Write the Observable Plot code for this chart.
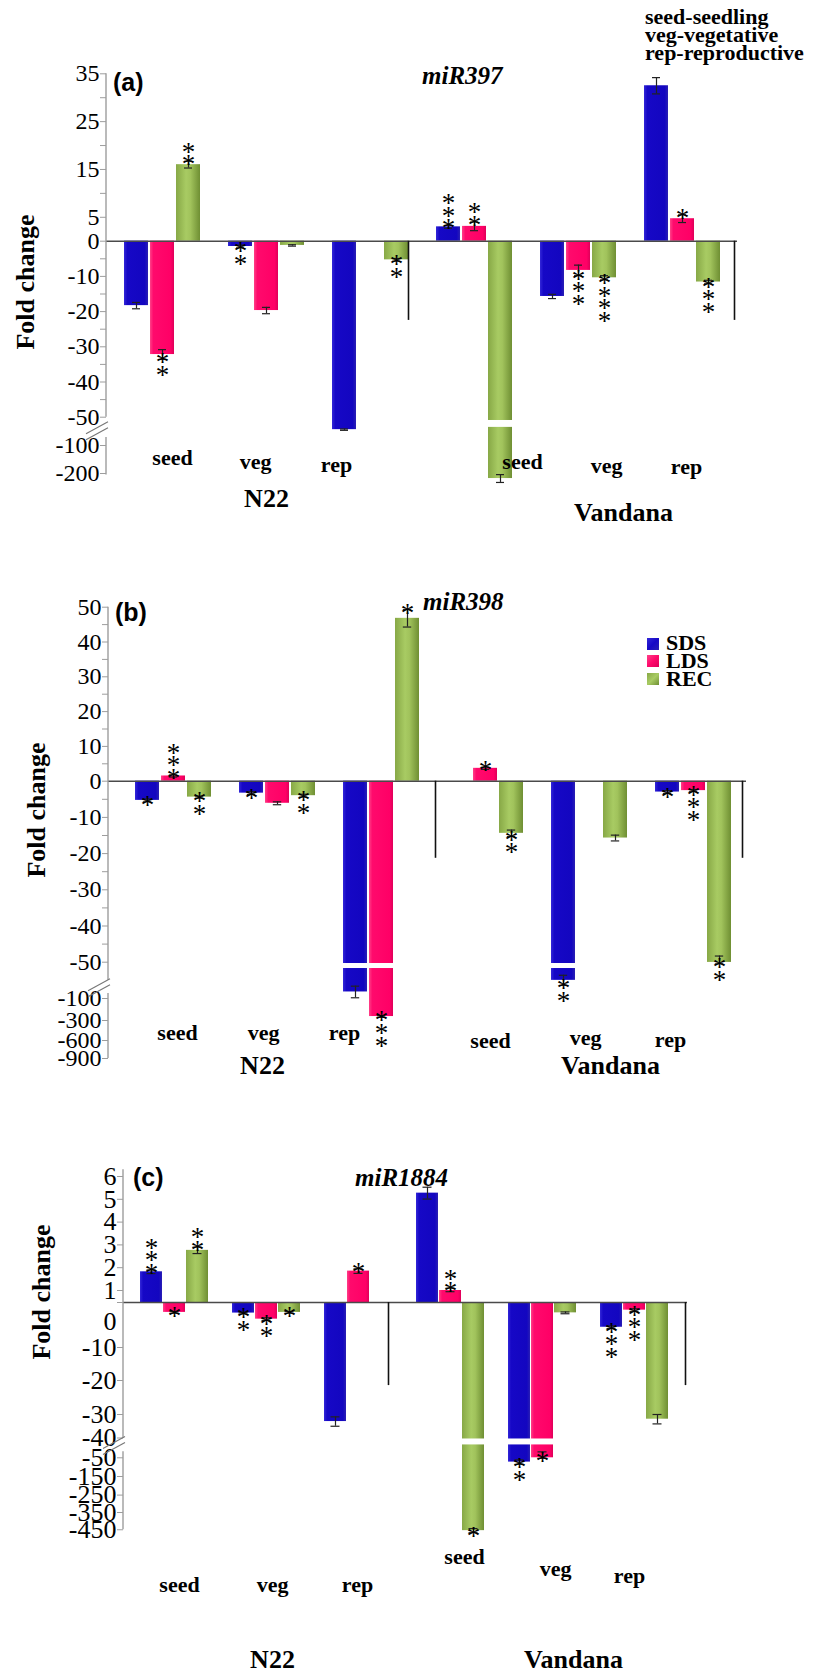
<!DOCTYPE html>
<html>
<head>
<meta charset="utf-8">
<script src="https://cdn.jsdelivr.net/npm/d3@7"></script>
<script src="https://cdn.jsdelivr.net/npm/@observablehq/plot@0.6"></script>
<style>
  html, body { margin: 0; padding: 0; background: #fff; }
  #root { position: relative; width: 820px; height: 1673px; overflow: hidden; background: #fff;
          font-family: "Liberation Serif", "Times New Roman", serif; color: #000; }
  #root svg { position: absolute; left: 0; overflow: visible; }
  .lbl { position: absolute; white-space: pre; line-height: 1; }
</style>
</head>
<body>
<div id="root"></div>
<script>
// ---------------- categories ----------------
const cultivars = ["N22", "Vandana"];
const stages = ["seed", "veg", "rep"];
const series = ["SDS", "LDS", "REC"];
const stageNotes = ["seed-seedling", "veg-vegetative", "rep-reproductive"];

// values ordered: N22 seed, N22 veg, N22 rep, Vandana seed, Vandana veg, Vandana rep
// ---------------- (a) miR397 ----------------
const a_SDS = [-18.3, -1.5, -72, 3.0, -15.7, 32.5];
const a_LDS = [-32.2, -19.7, null, 3.1, -8.3, 4.7];
const a_REC = [16.0, -1.2, -5.3, -218, -10.4, -11.6];
const a_SDS_err = [0.9, 0.4, 1.2, 0.3, 0.6, 1.7];
const a_LDS_err = [1.4, 0.9, 0, 0.9, 1.5, 0.8];
const a_REC_err = [0.7, 0.2, 0.4, 14, 0.6, 0.5];
const a_SDS_sig = [0, 2, 0, 3, 0, 0];
const a_LDS_sig = [2, 0, 0, 2, 3, 1];
const a_REC_sig = [2, 0, 2, 0, 4, 3];
const a_ticks = [35, 30, 25, 20, 15, 10, 5, 0, -5, -10, -15, -20, -25, -30, -35, -40, -45, -50, -100, -200];
const a_tickLabels = [35, 25, 15, 5, 0, -10, -20, -30, -40, -50, -100, -200];

// ---------------- (b) miR398 ----------------
const b_SDS = [-5.3, -3.3, -91, null, -75, -3.0];
const b_LDS = [1.5, -6.1, -264, 3.7, null, -2.6];
const b_REC = [-4.4, -4.0, 46.8, -14.4, -15.7, -50.3];
const b_SDS_err = [0.4, 0.4, 8, 0, 7, 0.4];
const b_LDS_err = [0.3, 0.4, 8, 0.3, 0, 0.3];
const b_REC_err = [0.3, 0.4, 2.5, 0.9, 0.8, 2];
const b_SDS_sig = [1, 1, 0, 0, 2, 1];
const b_LDS_sig = [3, 0, 3, 1, 0, 3];
const b_REC_sig = [2, 2, 1, 2, 0, 2];
const b_ticks = [50, 45, 40, 35, 30, 25, 20, 15, 10, 5, 0, -5, -10, -15, -20, -25, -30, -35, -40, -45, -50, -100, -300, -600, -900];
const b_tickLabels = [50, 40, 30, 20, 10, 0, -10, -20, -30, -40, -50, -100, -300, -600, -900];

// ---------------- (c) miR1884 ----------------
const c_SDS = [1.82, -2.35, -33, 5.27, -73, -5.5];
const c_LDS = [-2.2, -3.7, 1.85, 1.0, -50, -1.7];
const c_REC = [2.76, -2.2, null, -455, -2.3, -32];
const c_SDS_err = [0.08, 0.2, 2, 0.26, 12, 0.3];
const c_LDS_err = [0.2, 0.3, 0.1, 0.1, 3, 0.3];
const c_REC_err = [0.14, 0.2, 0, 12, 0.2, 2];
const c_SDS_sig = [3, 2, 0, 0, 2, 3];
const c_LDS_sig = [1, 2, 1, 2, 1, 3];
const c_REC_sig = [2, 1, 0, 1, 0, 0];
const c_ticks = [6, 5, 4, 3, 2, 1, 0, -10, -20, -30, -40, -50, -150, -250, -350, -450];
const c_tickLabels = [6, 5, 4, 3, 2, 1, 0, -10, -20, -30, -40, -50, -150, -250, -350, -450];

// ---------------- styles ----------------
const SERIF = '"Liberation Serif","Times New Roman",serif';
const SANS = '"Liberation Sans",Arial,sans-serif';
const gradients = {
  SDS: [[0, "#3327d8"], [0.14, "#1608c6"], [0.86, "#1306c0"], [1, "#2a1fb4"]],
  LDS: [[0, "#ff4088"], [0.14, "#ff0a6c"], [0.86, "#ff0066"], [1, "#de0059"]],
  REC: [[0, "#87a846"], [0.42, "#a8cb63"], [0.6, "#a1c35c"], [1, "#6f8f33"]]
};

// ---------------- panel definitions (layout kept apart from data) ----------------
const panels = [
  {
    id: "pa", tag: "(a)", gene: "miR397",
    values: {SDS: a_SDS, LDS: a_LDS, REC: a_REC},
    err: {SDS: a_SDS_err, LDS: a_LDS_err, REC: a_REC_err},
    sig: {SDS: a_SDS_sig, LDS: a_LDS_sig, REC: a_REC_sig},
    ticks: a_ticks, tickLabels: a_tickLabels,
    L: {top: 0, height: 530,
        yDomain: [35, 0, -50, -100, -250], yRange: [73.3, 240.7, 416.7, 445, 487],
        xRange: [117.5, 753.1], marginLeft: 106, marginRight: 83, tickFont: 24,
        sepBottom: -22.5, sepDx: [-14, 0], gap: [-55.8, -68], gapBelow: -100,
        stageY: -160, stageDx: [10, -11, -34, 48, 28, 4], stageDy: [-4, 0, 3, 0, 4, 5],
        axisSegs: [[35, -50], [-86, -205]], breakAt: -75,
        cultivarDy: [19.5, 33.5], cultivarDx: [0, 19], labelDy: {},
        tagPos: [113, 70], genePos: [422, 63], foldPos: [26, 282]}
  },
  {
    id: "pb", tag: "(b)", gene: "miR398",
    values: {SDS: b_SDS, LDS: b_LDS, REC: b_REC},
    err: {SDS: b_SDS_err, LDS: b_LDS_err, REC: b_REC_err},
    sig: {SDS: b_SDS_sig, LDS: b_LDS_sig, REC: b_REC_sig},
    ticks: b_ticks, tickLabels: b_tickLabels,
    L: {top: 530, height: 560,
        yDomain: [50, 0, -50, -100, -300, -600, -900], yRange: [606.7, 780.7, 961.7, 998, 1020, 1040, 1058],
        xRange: [132.7, 759.9], marginLeft: 108, marginRight: 74, tickFont: 24,
        sepBottom: -21.3, sepDx: [2, -3], gap: [-51.8, -58.7], gapBelow: -50.5,
        stageY: -525, stageDx: [4, -14, -37, 5, -4, -23], stageDy: [-3, -3, -3, 5, 2, 4],
        axisSegs: [[50, -75], [-93, -900]], breakAt: -86,
        cultivarDy: [15.5, 15.5], cultivarDx: [-15, -5], labelDy: {},
        tagPos: [115, 600], genePos: [423, 589], foldPos: [37, 810]}
  },
  {
    id: "pc", tag: "(c)", gene: "miR1884",
    values: {SDS: c_SDS, LDS: c_LDS, REC: c_REC},
    err: {SDS: c_SDS_err, LDS: c_LDS_err, REC: c_REC_err},
    sig: {SDS: c_SDS_sig, LDS: c_LDS_sig, REC: c_REC_sig},
    ticks: c_ticks, tickLabels: c_tickLabels,
    L: {top: 1090, height: 583,
        yDomain: [6, 1, 0, -10, -20, -30, -40, -50, -150, -250, -350, -460],
        yRange: [1176, 1290, 1302, 1347, 1380, 1414, 1437.5, 1457.3, 1476, 1494.6, 1512, 1531],
        xRange: [135.5, 695.7], marginLeft: 123, marginRight: 133, tickFont: 26,
        sepBottom: -21.5, sepDx: [-16, 5], gap: [-40.5, -43.5], gapBelow: -45,
        stageY: -697, stageDx: [5, 6, -1, 14, 13, -5], stageDy: [13, 13, 13, -15, -3, 4],
        axisSegs: [[6.3, -40], [-47, -450]], breakAt: -44,
        cultivarDy: [136, 136], cultivarDx: [6, 8], labelDy: {0: 19},
        tagPos: [133, 1165], genePos: [355, 1165], foldPos: [42, 1292]}
  }
];

const root = document.getElementById("root");
function addLabel(text, style) {
  const d = document.createElement("div");
  d.className = "lbl";
  d.textContent = text;
  Object.assign(d.style, style);
  root.appendChild(d);
  return d;
}

const groupIds = [];
for (const c of cultivars) for (const s of stages) groupIds.push(`${c}-${s}`);

function drawPanel(p) {
  const L = p.L;
  const keys = [];
  for (const g of groupIds) { for (const s of series) keys.push(`${g}|${s}`); keys.push(`${g}|gap`); }

  const rows = [];
  groupIds.forEach((g, gi) => {
    for (const s of series) {
      const v = p.values[s][gi];
      if (v == null) continue;
      rows.push({key: `${g}|${s}`, series: s, value: v, err: p.err[s][gi], sig: p.sig[s][gi]});
    }
  });
  const errRows = rows.filter(d => d.err > 0);
  const sepKeys = [`N22-rep|gap`, `Vandana-rep|gap`];
  const cultKeys = [`N22-veg|LDS`, `Vandana-veg|REC`];

  const yRange = L.yRange.map(v => v - L.top);
  const bw = (L.xRange[1] - L.xRange[0]) / (keys.length - 0.06) * 0.94;
  const capInset = Math.max(0, (bw - 9) / 2);
  const stars = n => Array(n).fill("*").join("\n");
  const starOpts = {x: "key", text: d => stars(d.sig), fontSize: 27, fontFamily: SERIF, lineHeight: 0.47, fill: "#000"};

  const labelSet = new Set(p.tickLabels);
  const shifted = Object.keys(L.labelDy).map(Number);

  const marks = [
    ...series.map(s => Plot.barY(rows.filter(d => d.series === s),
      {x: "key", y1: 0, y2: "value", fill: `url(#${p.id}-${s})`})),
    Plot.rectY(rows.filter(d => d.value < L.gapBelow),
      {x: "key", y1: L.gap[0], y2: L.gap[1], fill: "#fff", insetLeft: -1, insetRight: -1}),
    Plot.ruleY([0], {stroke: "#4a4a4a", strokeWidth: 1.6}),
    Plot.ruleX(errRows, {x: "key", y1: d => d.value - d.err, y2: d => d.value + d.err, stroke: "#222", strokeWidth: 1.2}),
    Plot.tickY(errRows, {x: "key", y: d => d.value + d.err, stroke: "#222", strokeWidth: 1.2, insetLeft: capInset, insetRight: capInset}),
    Plot.tickY(errRows, {x: "key", y: d => d.value - d.err, stroke: "#222", strokeWidth: 1.2, insetLeft: capInset, insetRight: capInset}),
    ...sepKeys.map((k, i) => Plot.ruleX([k], {x: d => d, y1: 0, y2: L.sepBottom, dx: L.sepDx[i], stroke: "#111", strokeWidth: 1.6})),
    Plot.text(rows.filter(d => d.sig > 0 && d.value >= 0),
      {...starOpts, y: d => d.value + d.err, lineAnchor: "bottom", dy: 12}),
    Plot.text(rows.filter(d => d.sig > 0 && d.value < 0),
      {...starOpts, y: d => d.value - d.err, lineAnchor: "top", dy: 3}),
    ...groupIds.map((g, i) => Plot.text([{key: `${g}|LDS`, stage: stages[i % 3]}],
      {x: "key", y: () => L.stageY, text: "stage", dx: L.stageDx[i], dy: L.stageDy[i],
       fontSize: 22, fontWeight: "bold", fontFamily: SERIF, fill: "#000"})),
    ...cultivars.map((c, i) => Plot.text([{key: cultKeys[i], name: c}],
      {x: "key", text: "name", frameAnchor: "bottom", dy: L.cultivarDy[i], dx: L.cultivarDx[i],
       fontSize: 26, fontWeight: "bold", fontFamily: SERIF, fill: "#000"})),
    Plot.axisY({ticks: p.ticks, tickFormat: d => (labelSet.has(d) && !shifted.includes(d)) ? String(d) : "",
      tickSize: 6, tickPadding: 1, stroke: "#9d9d9d", fill: "#000", fontSize: L.tickFont, fontFamily: SERIF, label: null}),
    ...shifted.map(v => Plot.axisY({ticks: [v], tickFormat: d => String(d), tickSize: 0, tickPadding: 7,
      dy: L.labelDy[v], fill: "#000", stroke: "none", fontSize: L.tickFont, fontFamily: SERIF, label: null}))
  ];

  const svg = Plot.plot({
    width: 820, height: L.height,
    marginLeft: L.marginLeft, marginRight: L.marginRight,
    marginTop: yRange[0], marginBottom: L.height - yRange[yRange.length - 1],
    style: {background: "transparent", fontFamily: SERIF, overflow: "visible"},
    x: {type: "band", domain: keys, range: L.xRange, paddingInner: 0.06, paddingOuter: 0, axis: null},
    y: {type: "linear", domain: L.yDomain, range: yRange, label: null},
    marks
  });
  svg.style.top = L.top + "px";
  root.appendChild(svg);

  // gradients, axis line segments and break marks
  const g = d3.select(svg);
  const defs = g.insert("defs", ":first-child");
  for (const s of series) {
    const lg = defs.append("linearGradient").attr("id", `${p.id}-${s}`).attr("x1", 0).attr("x2", 1).attr("y1", 0).attr("y2", 0);
    for (const [o, c] of gradients[s]) lg.append("stop").attr("offset", o).attr("stop-color", c);
  }
  const yS = svg.scale("y");
  const ax = L.marginLeft;
  for (const [v1, v2] of L.axisSegs) {
    g.append("line").attr("x1", ax).attr("x2", ax).attr("y1", yS.apply(v1)).attr("y2", yS.apply(v2))
      .attr("stroke", "#9d9d9d").attr("stroke-width", 1.4);
  }
  const yb = yS.apply(L.breakAt);
  for (const o of [-3, 3]) {
    g.append("line").attr("x1", ax - 20).attr("y1", yb + 6 + o).attr("x2", ax + 2).attr("y2", yb - 6 + o)
      .attr("stroke", "#777").attr("stroke-width", 1.1);
  }

  // titles
  addLabel(p.tag, {left: L.tagPos[0] + "px", top: L.tagPos[1] + "px", fontFamily: SANS, fontWeight: "bold", fontSize: "25px"});
  addLabel(p.gene, {left: L.genePos[0] + "px", top: L.genePos[1] + "px", fontFamily: SERIF, fontWeight: "bold", fontStyle: "italic", fontSize: "25px"});
  addLabel("Fold change", {left: L.foldPos[0] + "px", top: L.foldPos[1] + "px", fontFamily: SERIF, fontWeight: "bold",
    fontSize: "26px", transform: "translate(-50%,-50%) rotate(-90deg)"});
}

panels.forEach(drawPanel);

// stage abbreviations note (panel a)
addLabel(stageNotes.join("\n"), {left: "645px", top: "8px", fontFamily: SERIF, fontWeight: "bold", fontSize: "22px", lineHeight: "18px"});

// series legend (panel b)
const legendTops = [638, 655, 673];
series.forEach((s, i) => {
  const sq = document.createElement("div");
  const stops = gradients[s];
  Object.assign(sq.style, {position: "absolute", left: "647px", top: legendTops[i] + "px", width: "12px", height: "12px",
    background: `linear-gradient(135deg, ${stops[0][1]}, ${stops[1][1]} 50%, ${stops[3][1]})`});
  root.appendChild(sq);
});
addLabel(series.join("\n"), {left: "666px", top: "634px", fontFamily: SERIF, fontWeight: "bold", fontSize: "22px", lineHeight: "18px"});
</script>
</body>
</html>
